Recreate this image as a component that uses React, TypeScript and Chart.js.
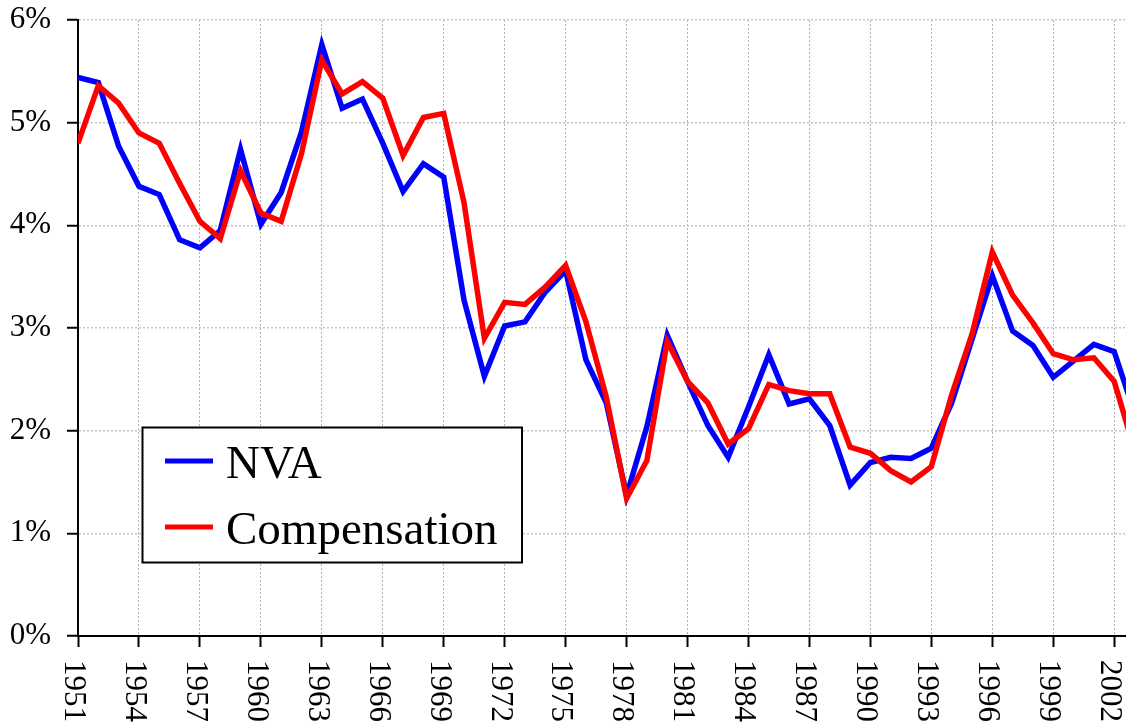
import React, { useEffect, useRef } from "react";
import { Chart, registerables } from "chart.js";

Chart.register(...registerables);

const years = [
  1951, 1952, 1953, 1954, 1955, 1956, 1957, 1958, 1959, 1960,
  1961, 1962, 1963, 1964, 1965, 1966, 1967, 1968, 1969, 1970,
  1971, 1972, 1973, 1974, 1975, 1976, 1977, 1978, 1979, 1980,
  1981, 1982, 1983, 1984, 1985, 1986, 1987, 1988, 1989, 1990,
  1991, 1992, 1993, 1994, 1995, 1996, 1997, 1998, 1999, 2000,
  2001, 2002, 2003,
];

const nva = [
  5.44, 5.39, 4.77, 4.38, 4.30, 3.86, 3.78, 3.95, 4.74, 4.01,
  4.32, 4.91, 5.76, 5.14, 5.23, 4.80, 4.33, 4.60, 4.47, 3.27,
  2.53, 3.02, 3.06, 3.35, 3.56, 2.69, 2.27, 1.37, 2.04, 2.93,
  2.48, 2.05, 1.74, 2.23, 2.74, 2.26, 2.31, 2.05, 1.47, 1.69,
  1.74, 1.73, 1.83, 2.27, 2.89, 3.51, 2.97, 2.83, 2.52, 2.68,
  2.84, 2.77, 2.17,
];

const compensation = [
  4.80, 5.36, 5.19, 4.90, 4.80, 4.41, 4.04, 3.87, 4.53, 4.12,
  4.04, 4.70, 5.61, 5.28, 5.40, 5.24, 4.68, 5.05, 5.09, 4.22,
  2.90, 3.25, 3.23, 3.40, 3.61, 3.06, 2.33, 1.34, 1.71, 2.87,
  2.48, 2.27, 1.87, 2.02, 2.45, 2.39, 2.36, 2.36, 1.84, 1.78,
  1.61, 1.50, 1.65, 2.35, 2.94, 3.74, 3.32, 3.05, 2.75, 2.69,
  2.71, 2.48, 1.81,
];

const xTickYears = [
  1951, 1954, 1957, 1960, 1963, 1966, 1969, 1972, 1975, 1978,
  1981, 1984, 1987, 1990, 1993, 1996, 1999, 2002,
];

const yTicks = [0, 1, 2, 3, 4, 5, 6];

const seriesLabels = ["NVA", "Compensation"];
const seriesColors = ["#0000ff", "#ff0000"];

const xLabelsPlugin = {
  id: "xLabelsClockwise",
  afterDraw(chart: any) {
    const ctx = chart.ctx;
    const xs = chart.scales.x;
    ctx.save();
    ctx.fillStyle = "#000";
    ctx.font = "31px 'Liberation Serif'";
    ctx.textAlign = "left";
    ctx.textBaseline = "middle";
    for (const yr of xTickYears) {
      const px = xs.getPixelForValue(yr);
      ctx.save();
      ctx.translate(px - 5, chart.chartArea.bottom + 24);
      ctx.rotate(Math.PI / 2);
      ctx.fillText(String(yr), 0, 0);
      ctx.restore();
    }
    ctx.restore();
  },
};

const legendPlugin = {
  id: "boxLegend",
  afterDraw(chart: any) {
    const ctx = chart.ctx;
    ctx.save();
    const bx = 142.5, by = 427.5, bw = 379.5, bh = 135;
    ctx.fillStyle = "#fff";
    ctx.fillRect(bx, by, bw, bh);
    ctx.strokeStyle = "#000";
    ctx.lineWidth = 2;
    ctx.strokeRect(bx, by, bw, bh);
    const rows = [
      { lineY: 461, textY: 478 },
      { lineY: 527, textY: 544 },
    ];
    chart.data.datasets.forEach((ds: any, i: number) => {
      const r = rows[i];
      ctx.strokeStyle = ds.borderColor;
      ctx.lineWidth = 5;
      ctx.beginPath();
      ctx.moveTo(165, r.lineY);
      ctx.lineTo(213, r.lineY);
      ctx.stroke();
      ctx.fillStyle = "#000";
      ctx.font = "47px 'Liberation Serif'";
      ctx.textAlign = "left";
      ctx.textBaseline = "alphabetic";
      ctx.fillText(ds.label, 226, r.textY);
    });
    ctx.restore();
  },
};

export default function App() {
  const ref = useRef<HTMLCanvasElement | null>(null);

  useEffect(() => {
    if (!ref.current) return;
    const chart = new Chart(ref.current, {
      type: "line",
      data: {
        datasets: [
          {
            label: seriesLabels[0],
            data: years.map((y, i) => ({ x: y, y: nva[i] })),
            borderColor: seriesColors[0],
            backgroundColor: seriesColors[0],
            borderWidth: 5.5,
            pointRadius: 0,
            tension: 0,
            order: 2,
          },
          {
            label: seriesLabels[1],
            data: years.map((y, i) => ({ x: y, y: compensation[i] })),
            borderColor: seriesColors[1],
            backgroundColor: seriesColors[1],
            borderWidth: 5.5,
            pointRadius: 0,
            tension: 0,
            order: 1,
          },
        ],
      },
      options: {
        responsive: false,
        animation: false,
        layout: { padding: { top: 20, left: 0, right: 0, bottom: 0 } },
        plugins: {
          legend: { display: false },
          tooltip: { enabled: false },
        },
        scales: {
          x: {
            type: "linear",
            min: 1951,
            max: 2002.58,
            afterBuildTicks: (scale: any) => {
              scale.ticks = xTickYears.map((v) => ({ value: v }));
            },
            afterFit: (scale: any) => {
              scale.height = 88;
              scale.paddingLeft = 0;
              scale.paddingRight = 0;
            },
            ticks: { display: false },
            grid: {
              color: "#b0b0b0",
              lineWidth: 1,
              tickColor: "#000",
              tickWidth: 2,
              tickLength: 11,
              tickBorderDash: [],
            },
            border: { display: true, color: "#000", width: 2, dash: [2, 2] },
          },
          y: {
            min: 0,
            max: 6,
            afterBuildTicks: (scale: any) => {
              scale.ticks = yTicks.map((v) => ({ value: v }));
            },
            afterFit: (scale: any) => {
              scale.width = 78;
              scale.paddingTop = 0;
              scale.paddingBottom = 0;
            },
            ticks: {
              callback: (v: any) => `${v}%`,
              color: "#000",
              font: { family: "'Liberation Serif'", size: 31 },
              padding: 16,
            },
            grid: {
              color: "#c4c4c4",
              lineWidth: 1.5,
              tickColor: "#000",
              tickWidth: 2,
              tickLength: 11,
              tickBorderDash: [],
            },
            border: { display: true, color: "#000", width: 2, dash: [2, 2] },
          },
        },
      },
      plugins: [xLabelsPlugin, legendPlugin],
    });
    return () => chart.destroy();
  }, []);

  return (
    <div style={{ position: "absolute", left: 0, top: 0, width: 1126, height: 724, background: "#fff" }}>
      <canvas ref={ref} width={1126} height={724} />
    </div>
  );
}
